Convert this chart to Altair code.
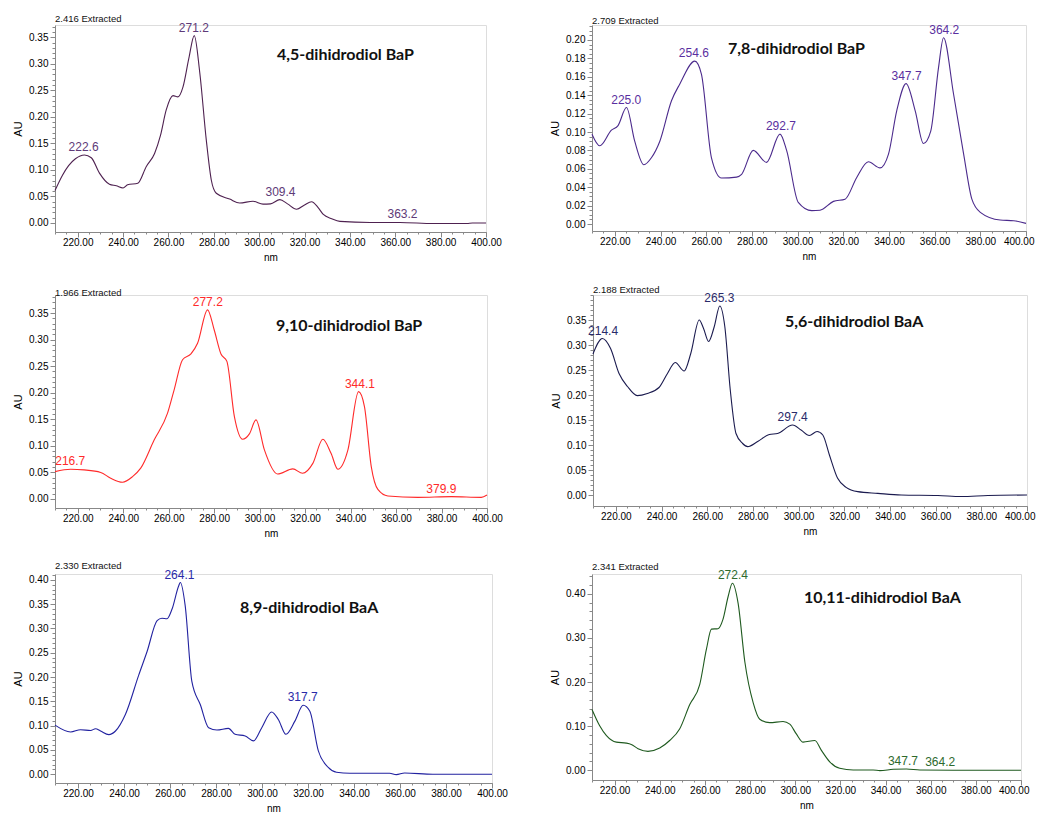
import altair as alt
import pandas as pd

# ---------------- data ----------------
# Panel 1: 4,5-dihidrodiol BaP
p1_nm = [210, 213.3, 216, 219, 223.0, 226, 229.6, 234, 237, 240, 242, 246.5, 250.2, 253.9, 256.5, 259, 262, 264.2, 266.4, 269, 271.4, 273.8, 276.7, 278.9, 281.1, 287, 291.4, 297.3, 301.7, 305, 309.1, 312.5, 316.5, 320, 323.1, 326, 328.3, 332, 335.6, 348.9, 362, 376.9, 391.6, 394, 400]
p1_au = [0.061, 0.090, 0.108, 0.121, 0.128, 0.123, 0.094, 0.073, 0.070, 0.066, 0.072, 0.075, 0.106, 0.131, 0.165, 0.2125, 0.240, 0.2375, 0.256, 0.310, 0.353, 0.284, 0.156, 0.081, 0.056, 0.045, 0.0375, 0.041, 0.0356, 0.036, 0.044, 0.036, 0.026, 0.034, 0.040, 0.029, 0.016, 0.008, 0.003, 0.001, 0.001, -0.001, -0.001, 0.000, 0.000]
p1_peaks = [222.6, 271.2, 309.4, 363.2]
p1_peak_au = [0.128, 0.353, 0.044, 0.001]

# Panel 2: 7,8-dihidrodiol BaP
p2_nm = [210, 213.4, 218.5, 221.4, 225.1, 228.7, 232.7, 236, 239.7, 244.8, 248.4, 255, 257.9, 262.3, 266.7, 273.3, 275.5, 280.6, 286.4, 292.3, 295.2, 300.3, 306.2, 309.8, 315.7, 320.8, 325.9, 331, 336.1, 339.8, 343.4, 347.5, 351.5, 355.1, 358.3, 361.7, 363.9, 368.3, 372.7, 376.3, 380, 388.7, 394.6, 400]
p2_au = [0.0976, 0.085, 0.102, 0.107, 0.1266, 0.090, 0.0644, 0.072, 0.090, 0.134, 0.152, 0.177, 0.163, 0.072, 0.050, 0.051, 0.054, 0.080, 0.067, 0.0977, 0.080, 0.0235, 0.0145, 0.015, 0.0246, 0.027, 0.0506, 0.0676, 0.061, 0.076, 0.123, 0.1526, 0.123, 0.0875, 0.101, 0.170, 0.2025, 0.141, 0.076, 0.027, 0.0127, 0.0043, 0.0036, 0.0007]
p2_peaks = [225.0, 254.6, 292.7, 347.7, 364.2]
p2_peak_au = [0.1266, 0.177, 0.0977, 0.1526, 0.2025]

# Panel 3: 9,10-dihidrodiol BaP
p3_nm = [210, 216.9, 222.8, 230.1, 234.5, 239.7, 244.1, 247.7, 253.6, 259.5, 262.4, 266.1, 269.8, 272.7, 277.1, 280, 283, 285.6, 288.9, 292.5, 295.5, 298.4, 302.1, 307.9, 314.6, 318.9, 323.4, 327.8, 331.4, 334.4, 338.8, 343.5, 346.1, 349.1, 352, 356.4, 369.6, 384.3, 397.5, 400]
p3_au = [0.0515, 0.056, 0.0547, 0.050, 0.039, 0.0314, 0.042, 0.058, 0.111, 0.1615, 0.2055, 0.262, 0.273, 0.293, 0.356, 0.3186, 0.273, 0.259, 0.155, 0.1125, 0.1225, 0.149, 0.0924, 0.047, 0.0566, 0.0484, 0.067, 0.1125, 0.086, 0.056, 0.092, 0.202, 0.174, 0.061, 0.018, 0.0057, 0.003, 0.0044, 0.003, 0.0075]
p3_peaks = [216.7, 277.2, 344.1, 379.9]
p3_peak_au = [0.056, 0.356, 0.202, 0.0044]

# Panel 4: 5,6-dihidrodiol BaA
p4_nm = [210, 214.1, 217.7, 221.4, 225.1, 229.4, 233.8, 238.9, 242.6, 246, 249.9, 252.8, 256.5, 258.4, 260.6, 263.1, 265.5, 267.7, 270.1, 272.6, 275.5, 277.7, 282.1, 287.2, 290.8, 297.4, 301.1, 304.7, 308.1, 310.6, 313.5, 317.1, 320.8, 325.9, 334.7, 344.9, 361, 371.2, 382.9, 400]
p4_au = [0.282, 0.313, 0.293, 0.243, 0.217, 0.1987, 0.203, 0.215, 0.243, 0.265, 0.248, 0.283, 0.350, 0.333, 0.307, 0.337, 0.378, 0.337, 0.210, 0.123, 0.103, 0.0967, 0.107, 0.121, 0.123, 0.140, 0.130, 0.119, 0.127, 0.120, 0.080, 0.0333, 0.0153, 0.0067, 0.0033, 0.000, -0.001, -0.003, -0.001, 0.000]
p4_peaks = [214.4, 265.3, 297.4]
p4_peak_au = [0.313, 0.378, 0.140]

# Panel 5: 8,9-dihidrodiol BaA
p5_nm = [210, 216.8, 221.1, 225.5, 227.6, 229.8, 233.4, 236.3, 240.6, 246.4, 250, 254.4, 256.5, 258.7, 260.9, 263.8, 264.5, 266.6, 269.5, 273.2, 276.8, 280.4, 285.4, 288.3, 292.7, 296.3, 299.9, 304.2, 307.1, 310.4, 314.3, 317.9, 320.8, 324.5, 328.8, 332.4, 338.2, 355.5, 358.4, 362, 374.3, 400]
p5_au = [0.101, 0.087, 0.0917, 0.090, 0.0937, 0.089, 0.0815, 0.089, 0.123, 0.204, 0.252, 0.316, 0.321, 0.320, 0.340, 0.388, 0.3945, 0.347, 0.191, 0.143, 0.0958, 0.091, 0.0944, 0.0822, 0.0788, 0.0686, 0.0958, 0.128, 0.1127, 0.0822, 0.1093, 0.142, 0.1297, 0.048, 0.0143, 0.0041, 0.002, 0.002, -0.0007, 0.0027, 0.000, 0.000]
p5_peaks = [264.1, 317.7]
p5_peak_au = [0.3945, 0.142]

# Panel 6: 10,11-dihidrodiol BaA
p6_nm = [210, 213.4, 216.4, 220.8, 225.2, 227.4, 230.4, 234.8, 240, 244.4, 248.8, 253.3, 257.7, 260.7, 262.9, 265.8, 268, 270.3, 272.2, 274.7, 277.7, 281.4, 284.3, 288.7, 294.6, 297.6, 300.5, 303.5, 308.7, 311.6, 315.3, 319.7, 325.7, 334.5, 337.5, 343.4, 349.3, 355.2, 370, 400]
p6_au = [0.138, 0.101, 0.0787, 0.0638, 0.0616, 0.0586, 0.049, 0.043, 0.0505, 0.0675, 0.0935, 0.149, 0.194, 0.275, 0.320, 0.321, 0.342, 0.394, 0.424, 0.379, 0.2456, 0.153, 0.1158, 0.108, 0.1106, 0.1046, 0.0824, 0.0638, 0.0675, 0.0453, 0.0193, 0.0045, 0.0007, 0.0007, -0.0007, 0.0022, 0.003, 0.0007, 0.000, 0.000]
p6_peaks = [272.4, 347.7, 364.2]
p6_peak_au = [0.424, 0.003, 0.0007]

panel_titles = ["4,5-dihidrodiol BaP", "7,8-dihidrodiol BaP", "9,10-dihidrodiol BaP",
                "5,6-dihidrodiol BaA", "8,9-dihidrodiol BaA", "10,11-dihidrodiol BaA"]
extracted = ["2.416 Extracted", "2.709 Extracted", "1.966 Extracted",
             "2.188 Extracted", "2.330 Extracted", "2.341 Extracted"]

x_major = [220, 240, 260, 280, 300, 320, 340, 360, 380, 400]
x_minor = list(range(210, 401, 5))

FONT = "Liberation Sans"


def panel(nm, au, peaks, peak_au, title, extr, line_color, text_color,
          ydom, ymajor, yminor, width, height, tpos, flush):
    df = pd.DataFrame({"nm": nm, "au": au})
    pk = pd.DataFrame({"nm": peaks, "au": peak_au,
                       "lab": ["%.1f" % p for p in peaks]})
    xs = alt.Scale(domain=[210, 400], nice=False, zero=False)
    ys = alt.Scale(domain=ydom, nice=False, zero=False)
    xaxis_opts = dict(values=x_major, format=".2f", title="nm", orient="bottom",
                      grid=False, tickSize=5, labelPadding=0, titlePadding=5,
                      labelOverlap=False, titleFontWeight="normal", titleFontSize=10)
    if flush:
        xaxis_opts.update(labelFlush=True, labelFlushOffset=8)
    else:
        xaxis_opts.update(labelFlush=False)
    major_x = alt.Axis(**xaxis_opts)
    major_y = alt.Axis(values=ymajor, format=".2f", title="AU", orient="left",
                       grid=False, tickSize=5, labelPadding=2, titlePadding=5,
                       labelOverlap=False,
                       titleFontWeight="normal", titleFontSize=11)
    minor_x = alt.Axis(values=x_minor, labels=False, domain=False, grid=False,
                       title=None, tickSize=2, orient="bottom")
    minor_y = alt.Axis(values=yminor, labels=False, domain=False, grid=False,
                       title=None, tickSize=3, orient="left")

    line = alt.Chart(df).mark_line(color=line_color, strokeWidth=1.1,
                                   interpolate="monotone").encode(
        x=alt.X("nm:Q", scale=xs, axis=major_x),
        y=alt.Y("au:Q", scale=ys, axis=major_y),
    )
    minor = alt.Chart(df).mark_line(opacity=0).encode(
        x=alt.X("nm:Q", scale=xs, axis=minor_x),
        y=alt.Y("au:Q", scale=ys, axis=minor_y),
    )
    labels = alt.Chart(pk).mark_text(color=text_color, fontSize=12, font=FONT,
                                     dy=-8, align="center").encode(
        x=alt.X("nm:Q", scale=xs, axis=None),
        y=alt.Y("au:Q", scale=ys, axis=None),
        text="lab:N",
    )
    tdf = pd.DataFrame({"t": [title]})
    ttl = alt.Chart(tdf).mark_text(font="Lato", fontSize=16, fontWeight="bold",
                                   color="#111111", align="left",
                                   baseline="middle").encode(
        x=alt.value(tpos[0]), y=alt.value(tpos[1]), text="t:N"
    )
    return alt.layer(line, minor, labels, ttl).resolve_axis(
        x="independent", y="independent"
    ).properties(
        width=width, height=height,
        title=alt.TitleParams(extr, anchor="start", fontSize=9.5, font=FONT,
                              fontWeight="normal", color="#111111", offset=-2,
                              frame="group"),
    )


y05 = [0.0, 0.05, 0.10, 0.15, 0.20, 0.25, 0.30, 0.35]
y05b = [0.0, 0.05, 0.10, 0.15, 0.20, 0.25, 0.30, 0.35, 0.40]
y02 = [0.0, 0.02, 0.04, 0.06, 0.08, 0.10, 0.12, 0.14, 0.16, 0.18, 0.20]
y10 = [0.0, 0.10, 0.20, 0.30, 0.40]
m01 = [round(i * 0.01, 3) for i in range(0, 42)]
m005 = [round(i * 0.005, 4) for i in range(0, 44)]
m02 = [round(i * 0.02, 3) for i in range(0, 23)]

c1 = panel(p1_nm, p1_au, p1_peaks, p1_peak_au, panel_titles[0], extracted[0],
           "#4e2150", "#5e3a78", [-0.017, 0.373], y05, m01, 431, 207, (222, 30), False)
c2 = panel(p2_nm, p2_au, p2_peaks, p2_peak_au, panel_titles[1], extracted[1],
           "#4b2a8c", "#5a2fa0", [-0.0076, 0.2163], y02, m005, 434, 206, (136, 24), True)
c3 = panel(p3_nm, p3_au, p3_peaks, p3_peak_au, panel_titles[2], extracted[2],
           "#ff2a2a", "#ff2a2a", [-0.017, 0.384], y05, m01, 432, 213, (221, 31), False)
c4 = panel(p4_nm, p4_au, p4_peaks, p4_peak_au, panel_titles[3], extracted[3],
           "#1b1b4f", "#2a2a6a", [-0.022, 0.40], y05, m01, 434, 211, (192, 27), True)
c5 = panel(p5_nm, p5_au, p5_peaks, p5_peak_au, panel_titles[4], extracted[4],
           "#2222a0", "#2a2aa8", [-0.018, 0.412], y05b, m01, 437, 209, (185, 34), False)
c6 = panel(p6_nm, p6_au, p6_peaks, p6_peak_au, panel_titles[5], extracted[5],
           "#1f5a1f", "#2e6a2e", [-0.022, 0.445], y10, m02, 429, 206, (212, 24), True)

chart = alt.vconcat(
    alt.hconcat(c1, c2, spacing=47),
    alt.hconcat(c3, c4, spacing=47),
    alt.hconcat(c5, c6, spacing=41),
    spacing=21,
).properties(
    padding={"left": 12, "top": 13, "right": 0, "bottom": 0}
).configure_view(
    stroke="#8a8a8a", strokeWidth=1
).configure_axis(
    labelFont=FONT, labelFontSize=10, labelColor="#1a1a1a",
    titleFont=FONT, titleColor="#1a1a1a",
    domainColor="#000000", tickColor="#000000",
    domainWidth=1, tickWidth=1,
).configure(background="white")

chart.save("out.html", embed_options={"renderer": "svg", "actions": False})
